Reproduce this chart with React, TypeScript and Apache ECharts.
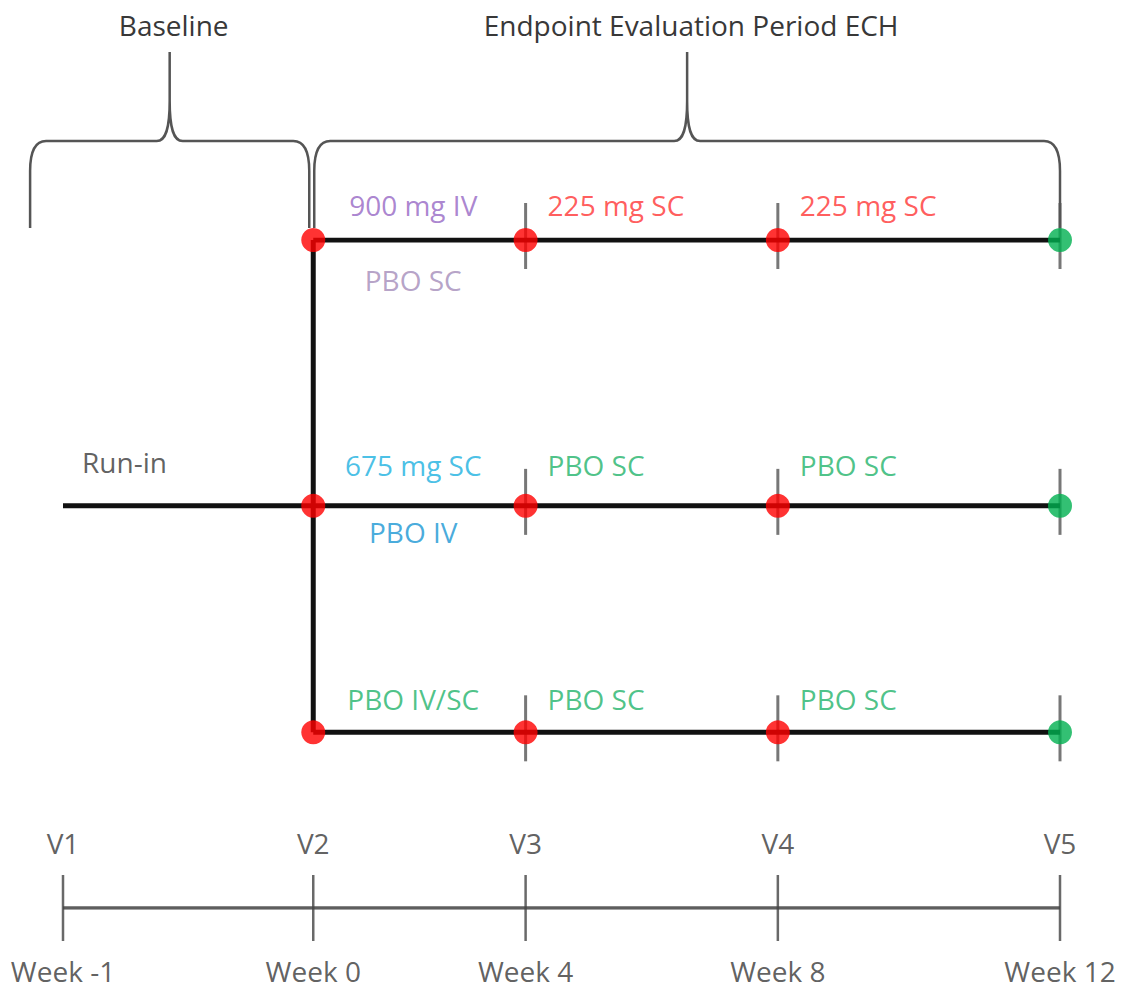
import React, { useEffect, useRef } from "react";
import * as echarts from "echarts";

// ---------------- data ----------------
const visits = ["V1", "V2", "V3", "V4", "V5"];
const weeks = ["Week -1", "Week 0", "Week 4", "Week 8", "Week 12"];
// position of each visit along the drawn timeline (V1 = 0, V5 = 100)
const visitPos = [0, 25.1, 46.4, 71.7, 100];

const arms = ["Arm A", "Arm B", "Arm C"];
// vertical level of each arm (0 = first arm, 100 = visit timeline)
const armLevel = [0, 39.8, 73.7];
const timelineLevel = 100;

const dosingVisits = [1, 2, 3]; // red dots
const endVisit = 4; // green dot
const armTickVisits = [2, 3, 4];

const runInArm = 1;
const runInText = "Run-in";

const doseText = ["900 mg IV", "PBO SC", "225 mg SC", "225 mg SC", "675 mg SC", "PBO IV", "PBO SC", "PBO SC", "PBO IV/SC", "PBO SC", "PBO SC"];
const doseArm = [0, 0, 0, 0, 1, 1, 1, 1, 2, 2, 2];
const doseVisit = [1, 1, 2, 3, 1, 1, 2, 3, 1, 2, 3];
const doseSide = ["above", "below", "above", "above", "above", "below", "above", "above", "above", "above", "above"];
const doseKind = ["iv900", "pboSc1", "sc225", "sc225", "sc675", "pboIv", "pbo", "pbo", "pbo", "pbo", "pbo"];

const periodNames = ["Baseline", "Endpoint Evaluation Period ECH"];
const periodFrom = [-3.3, 25.2];
const periodTo = [24.7, 100];

// ---------------- styles ----------------
const KIND_COLOR: Record<string, string> = {
  iv900: "#9566c4",
  pboSc1: "#a48bb9",
  sc225: "#ff3333",
  sc675: "#1ab0e0",
  pboIv: "#1895d3",
  pbo: "#1fb36a",
};
const FONT = "'Open Sans', 'DejaVu Sans', sans-serif";
const FS = 28;
const ABOVE_DY = [-35, -41, -33];
const BELOW_DY = [40, 26, 30];
const DARK = "#383838";

export default function App() {
  const ref = useRef<HTMLDivElement>(null);

  useEffect(() => {
    document.body.style.margin = "0";
    if (!ref.current) return;
    const chart = echarts.init(ref.current, undefined, { renderer: "svg" });

    const armLines = arms.map((a, i) => ({
      type: "line",
      name: a,
      data: [
        [visitPos[1], armLevel[i]],
        [visitPos[4], armLevel[i]],
      ],
      symbol: "none",
      lineStyle: { color: "#111", width: 5 },
      z: 3,
      silent: true,
    }));

    const runIn = {
      type: "line",
      data: [
        [visitPos[0], armLevel[runInArm]],
        [visitPos[1], armLevel[runInArm]],
      ],
      symbol: "none",
      lineStyle: { color: "#111", width: 5 },
      z: 3,
      silent: true,
    };

    const connector = {
      type: "line",
      data: [
        [visitPos[1], armLevel[0]],
        [visitPos[1], armLevel[arms.length - 1]],
      ],
      symbol: "none",
      lineStyle: { color: "#111", width: 5 },
      z: 3,
      silent: true,
    };

    const timeline = {
      type: "line",
      data: [
        [visitPos[0], timelineLevel],
        [visitPos[4], timelineLevel],
      ],
      symbol: "none",
      lineStyle: { color: "#5e5e5e", width: 3.5 },
      z: 2,
      silent: true,
    };

    const armTicks = {
      type: "scatter",
      data: arms.flatMap((_, a) => armTickVisits.map((v) => [visitPos[v], armLevel[a]])),
      symbol: "rect",
      symbolSize: [3, 66],
      symbolOffset: [0, -4],
      itemStyle: { color: "#555" },
      z: 2,
      silent: true,
      clip: false,
    };

    const timelineTicks = {
      type: "scatter",
      data: visits.map((_, v) => [visitPos[v], timelineLevel]),
      symbol: "rect",
      symbolSize: [2.5, 66],
      itemStyle: { color: "#444" },
      z: 2,
      silent: true,
      clip: false,
    };

    const dots = {
      type: "scatter",
      data: arms.flatMap((_, a) => [
        ...dosingVisits.map((v) => ({ value: [visitPos[v], armLevel[a]], itemStyle: { color: "#ff0000" } })),
        { value: [visitPos[endVisit], armLevel[a]], itemStyle: { color: "#00b050" } },
      ]),
      symbol: "circle",
      symbolSize: 24,
      z: 6,
      silent: true,
      clip: false,
    };

    const doseLabels = {
      type: "scatter",
      symbolSize: 0,
      silent: true,
      clip: false,
      z: 7,
      data: doseText.map((t, i) => {
        const centered = doseVisit[i] === 1;
        const dy = doseSide[i] === "above" ? ABOVE_DY[doseArm[i]] : BELOW_DY[doseArm[i]];
        return {
          name: t,
          value: [visitPos[doseVisit[i]], armLevel[doseArm[i]]],
          label: {
            show: true,
            formatter: "{b}",
            position: [centered ? 100 : 22, dy],
            align: centered ? "center" : "left",
            verticalAlign: "middle",
            color: KIND_COLOR[doseKind[i]],
            fontSize: FS,
            fontFamily: FONT,
          },
        };
      }),
    };

    const runInLabel = {
      type: "scatter",
      symbolSize: 0,
      silent: true,
      clip: false,
      z: 7,
      data: [
        {
          name: runInText,
          value: [visitPos[0], armLevel[runInArm]],
          label: {
            show: true,
            formatter: "{b}",
            position: [19, -44],
            align: "left",
            verticalAlign: "middle",
            color: DARK,
            fontSize: FS,
            fontFamily: FONT,
          },
        },
      ],
    };

    const visitLabels = {
      type: "scatter",
      symbolSize: 0,
      silent: true,
      clip: false,
      z: 7,
      data: visits.map((v, i) => ({
        name: v,
        value: [visitPos[i], timelineLevel],
        label: {
          show: true,
          formatter: "{b}",
          position: [0, -65],
          align: "center",
          verticalAlign: "middle",
          color: DARK,
          fontSize: FS,
          fontFamily: FONT,
        },
      })),
    };

    const weekLabels = {
      type: "scatter",
      symbolSize: 0,
      silent: true,
      clip: false,
      z: 7,
      data: weeks.map((w, i) => ({
        name: w,
        value: [visitPos[i], timelineLevel],
        label: {
          show: true,
          formatter: "{b}",
          position: [0, 63],
          align: "center",
          verticalAlign: "middle",
          color: DARK,
          fontSize: FS,
          fontFamily: FONT,
        },
      })),
    };

    const braces = {
      type: "custom",
      silent: true,
      clip: false,
      z: 4,
      data: periodNames.map((n, i) => ({ name: n, value: [periodFrom[i], periodTo[i]] })),
      renderItem: (params: any, api: any) => {
        const pL = api.coord([api.value(0), armLevel[0]]);
        const pR = api.coord([api.value(1), armLevel[0]]);
        const y0 = pL[1];
        const yB = y0 - 12;
        const yH = y0 - 99;
        const yP = y0 - 188;
        const x0 = pL[0];
        const x1 = pR[0];
        const xm = (x0 + x1) / 2;
        const d =
          `M${x0} ${yB} L${x0} ${yH + 30} Q${x0} ${yH} ${x0 + 16} ${yH} ` +
          `L${xm - 13} ${yH} C${xm - 4} ${yH} ${xm} ${yH - 12} ${xm} ${yH - 40} L${xm} ${yP} ` +
          `M${xm} ${yH - 40} C${xm} ${yH - 12} ${xm + 4} ${yH} ${xm + 13} ${yH} ` +
          `L${x1 - 16} ${yH} Q${x1} ${yH} ${x1} ${yH + 30} L${x1} ${yB}`;
        return {
          type: "group",
          children: [
            {
              type: "path",
              shape: { pathData: d },
              style: { fill: "none", stroke: "#555", lineWidth: 2.5 },
            },
            {
              type: "text",
              x: xm + 4,
              y: yP - 27,
              style: {
                text: periodNames[params.dataIndex],
                fill: DARK,
                fontSize: FS,
                fontFamily: FONT,
                textAlign: "center",
                textVerticalAlign: "middle",
                align: "center",
                verticalAlign: "middle",
              },
            },
          ],
        };
      },
    };

    chart.setOption({
      animation: false,
      backgroundColor: "#ffffff",
      grid: { left: 63, right: 67, top: 240, bottom: 86 },
      xAxis: { type: "value", min: 0, max: 100, show: false },
      yAxis: { type: "value", min: 0, max: 100, inverse: true, show: false },
      tooltip: { show: false },
      series: [
        ...armLines,
        runIn,
        connector,
        timeline,
        armTicks,
        timelineTicks,
        dots,
        doseLabels,
        runInLabel,
        visitLabels,
        weekLabels,
        braces,
      ],
    } as any);

    return () => chart.dispose();
  }, []);

  return <div ref={ref} style={{ width: 1127, height: 994 }} />;
}
